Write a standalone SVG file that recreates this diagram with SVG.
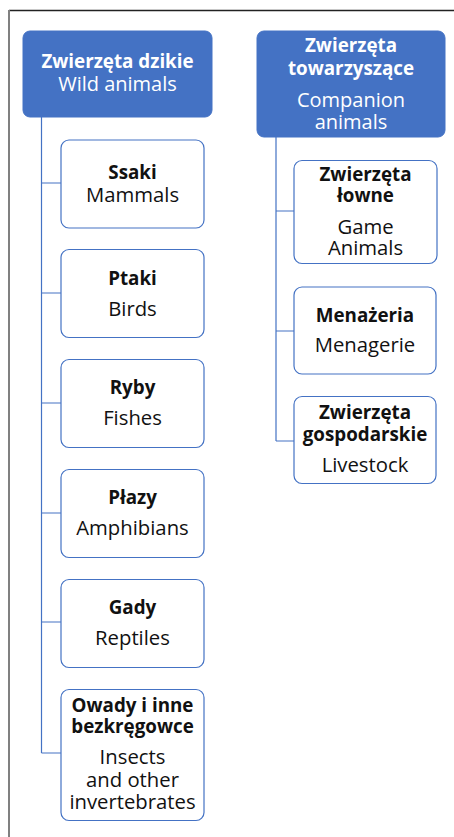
<svg xmlns="http://www.w3.org/2000/svg" width="454" height="837" viewBox="0 0 454 837">
<style>
.hdr{fill:#4472C4;stroke:#4472C4;stroke-width:1}
.box{fill:#fff;stroke:#4472C4;stroke-width:1.2}
.con{fill:none;stroke:#4472C4;stroke-width:1.2}
text{font-family:"Open Sans","Noto Sans",sans-serif;text-anchor:middle}
.ht{fill:#fff;font-size:20px}
.ht.b{font-size:18.8px}
.t{fill:#111;font-size:20.3px}
.t.b{font-size:18.8px}
.b{font-weight:700}
</style>
<rect width="454" height="837" fill="#fff"/>
<g id="frame">
<line x1="9" y1="10.5" x2="454" y2="10.5" stroke="#222" stroke-width="1.3"/>
<line x1="9" y1="10" x2="9" y2="837" stroke="#808080" stroke-width="2"/>
</g>
<g id="connectors">
<path class="con" d="M41.5 117V753M41.5 183H61M41.5 293H61M41.5 403H61M41.5 513H61M41.5 622H61M41.5 753H61"/>
<path class="con" d="M276 137V441M276 211H294M276 331H294M276 441H294"/>
</g>
<g id="wild">
<rect class="hdr" x="23" y="31" width="189" height="86" rx="7"/>
<text class="ht b" x="117.5" y="68">Zwierzęta dzikie</text>
<text class="ht" x="117.5" y="91">Wild animals</text>
</g>
<g id="companion">
<rect class="hdr" x="257" y="31" width="188" height="106" rx="7"/>
<text class="ht b" x="351" y="52">Zwierzęta</text>
<text class="ht b" x="351" y="75">towarzyszące</text>
<text class="ht" x="351" y="107">Companion</text>
<text class="ht" x="351" y="129">animals</text>
</g>
<g id="ssaki">
<rect class="box" x="61" y="140" width="143" height="88" rx="8"/>
<text class="t b" x="132.5" y="179">Ssaki</text>
<text class="t" x="132.5" y="202">Mammals</text>
</g>
<g id="ptaki">
<rect class="box" x="61" y="249.5" width="143" height="88" rx="8"/>
<text class="t b" x="132.5" y="285">Ptaki</text>
<text class="t" x="132.5" y="316">Birds</text>
</g>
<g id="ryby">
<rect class="box" x="61" y="359.5" width="143" height="88" rx="8"/>
<text class="t b" x="132.5" y="394">Ryby</text>
<text class="t" x="132.5" y="425">Fishes</text>
</g>
<g id="plazy">
<rect class="box" x="61" y="469.5" width="143" height="88" rx="8"/>
<text class="t b" x="132.5" y="504">Płazy</text>
<text class="t" x="132.5" y="535">Amphibians</text>
</g>
<g id="gady">
<rect class="box" x="61" y="579.5" width="143" height="88" rx="8"/>
<text class="t b" x="132.5" y="614">Gady</text>
<text class="t" x="132.5" y="645">Reptiles</text>
</g>
<g id="owady">
<rect class="box" x="61" y="689.5" width="143" height="131" rx="8"/>
<text class="t b" x="132.5" y="712">Owady i inne</text>
<text class="t b" x="132.5" y="733">bezkręgowce</text>
<text class="t" x="132.5" y="764">Insects</text>
<text class="t" x="132.5" y="787">and other</text>
<text class="t" x="132.5" y="809">invertebrates</text>
</g>
<g id="lowne">
<rect class="box" x="294" y="160.5" width="143" height="103" rx="8"/>
<text class="t b" x="365.5" y="181">Zwierzęta</text>
<text class="t b" x="365.5" y="202">łowne</text>
<text class="t" x="365.5" y="234">Game</text>
<text class="t" x="365.5" y="255">Animals</text>
</g>
<g id="menazeria">
<rect class="box" x="294" y="287" width="142" height="87" rx="8"/>
<text class="t b" x="365" y="322">Menażeria</text>
<text class="t" x="365" y="352">Menagerie</text>
</g>
<g id="gospodarskie">
<rect class="box" x="294" y="396.5" width="142" height="87" rx="8"/>
<text class="t b" x="365" y="419">Zwierzęta</text>
<text class="t b" x="365" y="441">gospodarskie</text>
<text class="t" x="365" y="472">Livestock</text>
</g>
</svg>
